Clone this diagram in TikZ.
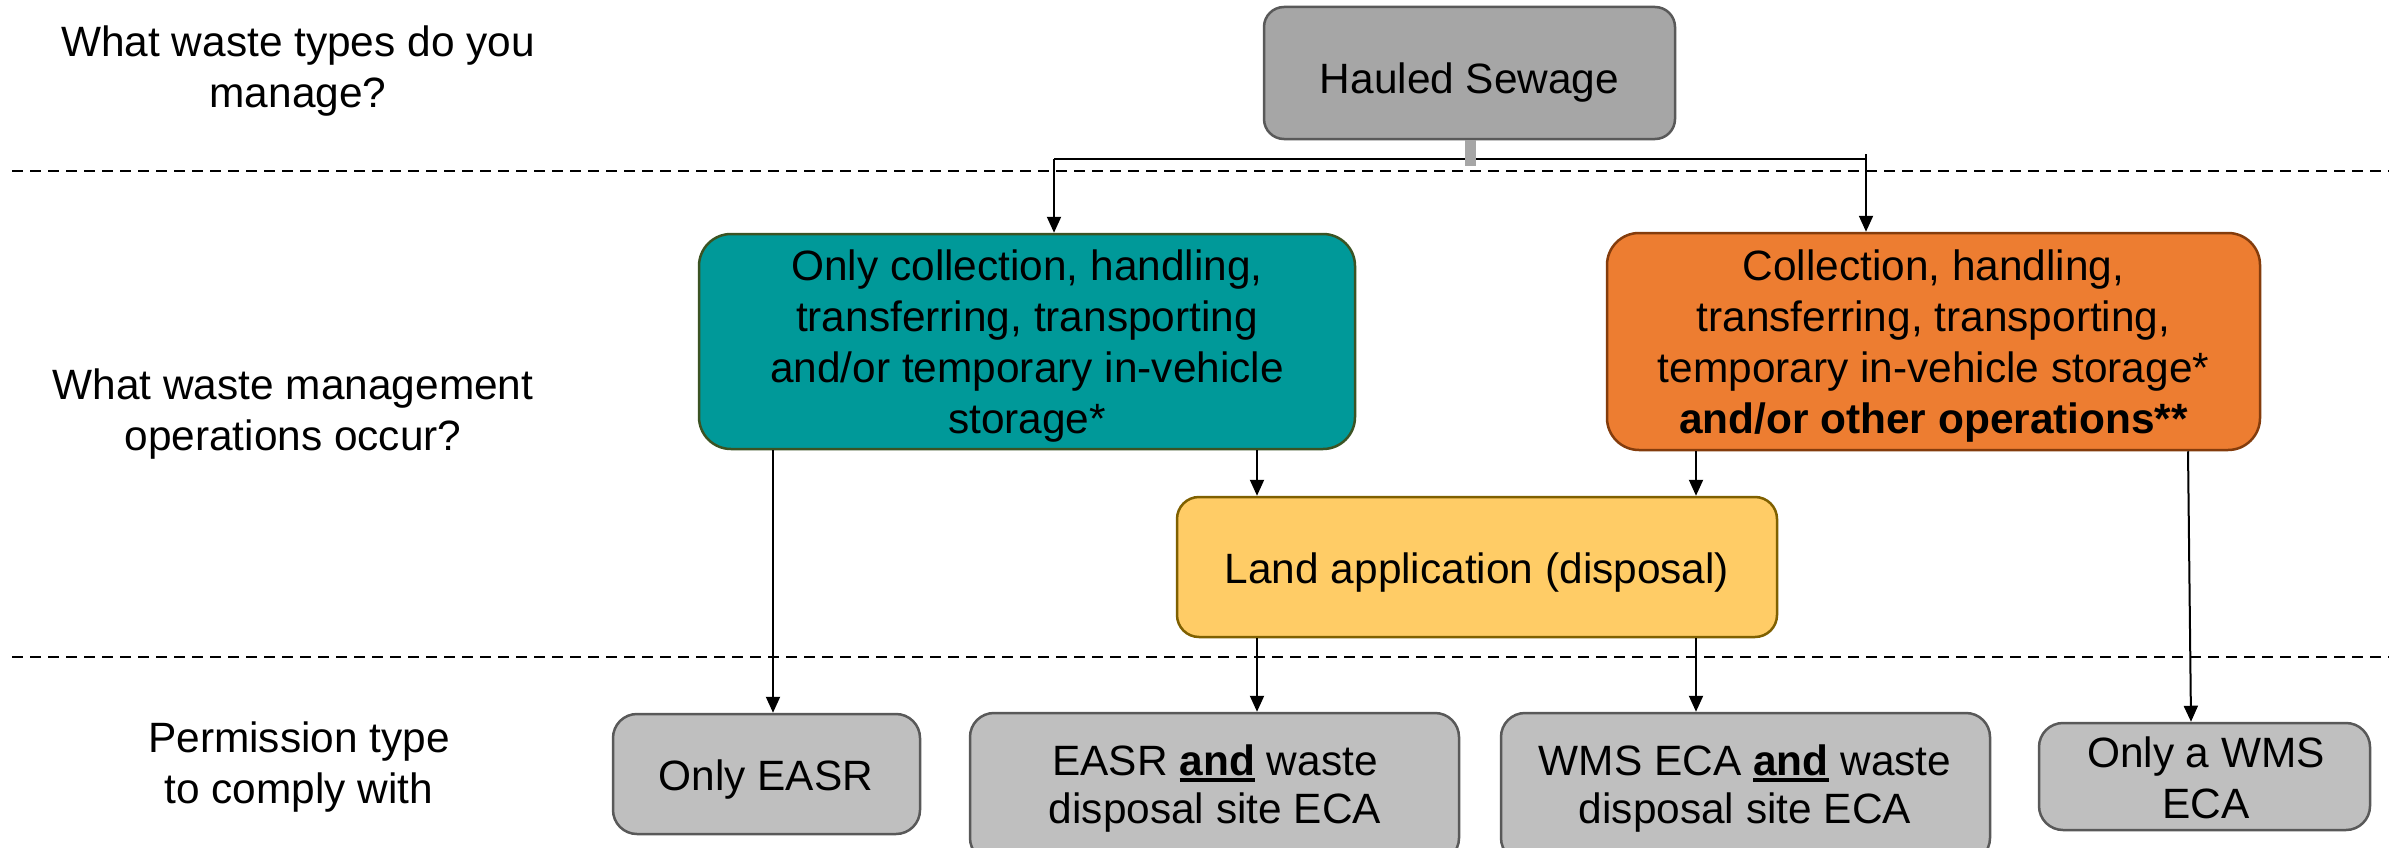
\documentclass[tikz,border=0pt]{standalone}
\usepackage{fontspec}
\setmainfont{Liberation Sans}
\usetikzlibrary{arrows.meta}
\definecolor{hsgray}{HTML}{A6A6A6}
\definecolor{bordergray}{HTML}{595959}
\definecolor{tealfill}{HTML}{009999}
\definecolor{tealborder}{HTML}{3B5323}
\definecolor{orangefill}{HTML}{ED7D31}
\definecolor{orangeborder}{HTML}{843C0C}
\definecolor{landfill}{HTML}{FFCC66}
\definecolor{landborder}{HTML}{7F6000}
\definecolor{boxgray}{HTML}{BFBFBF}
\newcommand\mlines[1]{\begin{tabular}[t]{@{}c@{}}#1\end{tabular}}
\newcommand\myul[1]{\setbox0\hbox{#1}\rlap{\rule[-7pt]{\wd0}{4pt}}\box0\relax}
\begin{document}
\begin{tikzpicture}[x=1pt,y=-1pt,
  basebox/.style={rectangle, inner sep=0pt, line width=2.5pt},
  hsbox/.style={basebox, fill=hsgray, draw=bordergray, rounded corners=20pt},
  tealbox/.style={basebox, fill=tealfill, draw=tealborder, rounded corners=32pt},
  orangebox/.style={basebox, fill=orangefill, draw=orangeborder, rounded corners=32pt},
  landbox/.style={basebox, fill=landfill, draw=landborder, rounded corners=22pt},
  graybox/.style={basebox, fill=boxgray, draw=bordergray, rounded corners=24pt},
  txt/.style={inner sep=0pt, font=\fontsize{42.4}{51}\selectfont, anchor=base},
  tighttxt/.style={txt, font=\fontsize{42.4}{48}\selectfont},
  conn/.style={line width=2pt, draw=black},
  arr/.style={conn, -{Triangle[length=16pt,width=14pt]}},
  stub/.style={line width=11pt, draw=hsgray},
  divider/.style={line width=2pt, draw=black, dash pattern=on 11pt off 7pt}]
\useasboundingbox (0,0) rectangle (2389,848);
\fill[white] (0,0) rectangle (2389,848);

% dividers
\coordinate (d1a) at (12,171); \coordinate (d1b) at (2389,171);
\coordinate (d2a) at (12,657); \coordinate (d2b) at (2389,657);
\draw[divider] (d1a) -- (d1b);
\draw[divider] (d2a) -- (d2b);

% left questions
\node[txt] (q1) at (298,57) {\mlines{What waste types do you\\ manage?}};
\node[txt] (q2) at (293,399) {\mlines{What waste management\\ operations occur?}};
\node[txt] (q3) at (299,752) {\mlines{Permission type\\ to comply with}};

% boxes
\node[hsbox, minimum width=411pt, minimum height=132pt] (hs) at (1469.5,73) {};
\node[tealbox, minimum width=656pt, minimum height=215pt] (teal) at (1027,341.5) {};
\node[orangebox, minimum width=653pt, minimum height=217pt] (orange) at (1933.5,341.5) {};
\node[landbox, minimum width=600pt, minimum height=140pt] (land) at (1477,567) {};
\node[graybox, minimum width=307pt, minimum height=120pt] (onlyeasr) at (766.5,774) {};
\node[graybox, minimum width=489pt, minimum height=149pt] (easrand) at (1214.5,787.5) {};
\node[graybox, minimum width=489pt, minimum height=149pt] (wmsand) at (1745.5,787.5) {};
\node[graybox, minimum width=331pt, minimum height=107pt] (onlywms) at (2204.5,776.5) {};

% box texts
\node[txt] (hst) at (1469.5,94) {Hauled Sewage};
\node[txt] (tealt) at (1027,280) {\mlines{Only collection, handling,\\ transferring, transporting\\ and/or temporary in-vehicle\\ storage*}};
\node[txt] (oranget) at (1933.5,280) {\mlines{Collection, handling,\\ transferring, transporting,\\ temporary in-vehicle storage*\\ \textbf{and/or other operations**}}};
\node[txt] (landt) at (1477,583) {Land application (disposal)};
\node[txt] (onlyeasrt) at (766,790) {Only EASR};
\node[tighttxt] (easrandt) at (1215,775) {\mlines{EASR \myul{\textbf{and}} waste\\ disposal site ECA}};
\node[tighttxt] (wmsandt) at (1745,775) {\mlines{WMS ECA \myul{\textbf{and}} waste\\ disposal site ECA}};
\node[txt] (onlywmst) at (2206,767) {\mlines{Only a WMS\\ ECA}};

% top split connector
\coordinate (jl) at (1054,159);
\coordinate (jr) at (1866,159);
\coordinate (jrtop) at (1866,154);
\coordinate (stubend) at (1470,166);
\draw[conn] (jl) -- (jr);
\draw[stub] (hs.south -| stubend) -- (stubend);
\draw[arr] (jl) -- (teal.north -| jl);
\draw[arr] (jrtop) -- (orange.north -| jrtop);

% vertical connectors
\coordinate (xa) at (773,0);
\coordinate (xb) at (1257,0);
\coordinate (xc) at (1696,0);
\coordinate (xd1) at (2188,0);
\coordinate (xd2) at (2191,0);
\draw[arr] (teal.south -| xa) -- (onlyeasr.north -| xa);
\draw[arr] (teal.south -| xb) -- (land.north -| xb);
\draw[arr] (land.south -| xb) -- (easrand.north -| xb);
\draw[arr] (orange.south -| xc) -- (land.north -| xc);
\draw[arr] (land.south -| xc) -- (wmsand.north -| xc);
\draw[arr] (orange.south -| xd1) -- (onlywms.north -| xd2);
\end{tikzpicture}
\end{document}
